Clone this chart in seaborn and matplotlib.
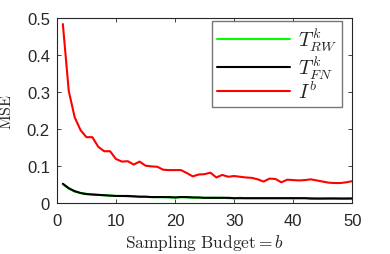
import numpy as np
import pandas as pd
import matplotlib
matplotlib.use("Agg")
import matplotlib.pyplot as plt
import seaborn as sns

budget = list(range(1, 51))
mse_ib = [0.484, 0.303, 0.232, 0.197, 0.178, 0.178, 0.152, 0.140, 0.140, 0.119,
          0.112, 0.113, 0.104, 0.112, 0.101, 0.099, 0.098, 0.090, 0.089, 0.089,
          0.089, 0.081, 0.072, 0.077, 0.078, 0.082, 0.069, 0.076, 0.071, 0.073,
          0.071, 0.069, 0.068, 0.064, 0.058, 0.066, 0.065, 0.056, 0.063, 0.062,
          0.061, 0.062, 0.064, 0.061, 0.058, 0.055, 0.054, 0.054, 0.056, 0.059]
mse_rw = [0.051, 0.039, 0.031, 0.027, 0.025, 0.023, 0.022, 0.021, 0.020, 0.019,
          0.019, 0.018, 0.018, 0.017, 0.017, 0.016, 0.016, 0.016, 0.015, 0.015,
          0.016, 0.015, 0.015, 0.014, 0.014, 0.014, 0.014, 0.014, 0.013, 0.013,
          0.014, 0.013, 0.013, 0.013, 0.013, 0.013, 0.013, 0.013, 0.013, 0.013,
          0.013, 0.013, 0.013, 0.012, 0.012, 0.013, 0.013, 0.012, 0.012, 0.013]
mse_fn = [0.052, 0.040, 0.032, 0.027, 0.024, 0.023, 0.022, 0.021, 0.020, 0.019,
          0.019, 0.019, 0.018, 0.017, 0.017, 0.016, 0.016, 0.016, 0.016, 0.015,
          0.016, 0.016, 0.015, 0.015, 0.014, 0.014, 0.014, 0.014, 0.014, 0.013,
          0.013, 0.013, 0.013, 0.013, 0.013, 0.013, 0.013, 0.013, 0.013, 0.013,
          0.013, 0.013, 0.012, 0.012, 0.012, 0.012, 0.012, 0.012, 0.012, 0.012]
series_names = [r"$T^k_{RW}$", r"$T^k_{FN}$", r"$I^b$"]
series_colors = ["#00ff00", "#000000", "#ff0000"]
xticks = [0, 10, 20, 30, 40, 50]
yticks = [0, 0.1, 0.2, 0.3, 0.4, 0.5]
ytick_labels = ["0", "0.1", "0.2", "0.3", "0.4", "0.5"]

df = pd.concat([
    pd.DataFrame({"b": budget, "mse": vals, "method": name})
    for name, vals in zip(series_names, [mse_rw, mse_fn, mse_ib])
])

sns.set_style("white")
plt.rcParams["mathtext.fontset"] = "cm"
plt.rcParams["font.family"] = ["Liberation Sans", "DejaVu Sans"]

fig = plt.figure(figsize=(3.9, 2.55), dpi=100)
ax = fig.add_axes([0.146, 0.2, 0.757, 0.725])
sns.lineplot(data=df, x="b", y="mse", hue="method", hue_order=series_names,
             palette=dict(zip(series_names, series_colors)), linewidth=1.5, ax=ax)

ax.set_xlim(0, 50)
ax.set_ylim(0, 0.5)
ax.set_xticks(xticks)
ax.set_xticklabels([str(t) for t in xticks])
ax.set_yticks(yticks)
ax.set_yticklabels(ytick_labels)
ax.tick_params(axis="both", direction="in", length=3, width=0.6, labelsize=12,
               colors="#262626", top=True, right=True, bottom=True, left=True)
ax.tick_params(axis="x", pad=7)
ax.tick_params(axis="y", pad=5)
for s in ax.spines.values():
    s.set_color("#262626")
    s.set_linewidth(0.8)
ax.set_xlabel(r"$\mathrm{Sampling\ Budget} = b$", fontsize=12.5, color="#262626", labelpad=3)
ax.set_ylabel(r"$\mathrm{MSE}$", fontsize=11.5, color="#262626", labelpad=9)

leg = ax.legend(loc="upper right", bbox_to_anchor=(0.966, 0.984), fontsize=14.5,
                frameon=True, fancybox=False, edgecolor="#555555", borderaxespad=0.0,
                handlelength=3.6, labelspacing=0.0, borderpad=0.25, handletextpad=0.4)
leg.get_frame().set_linewidth(1.0)
leg.set_title(None)

fig.savefig("out.png", dpi=100)
